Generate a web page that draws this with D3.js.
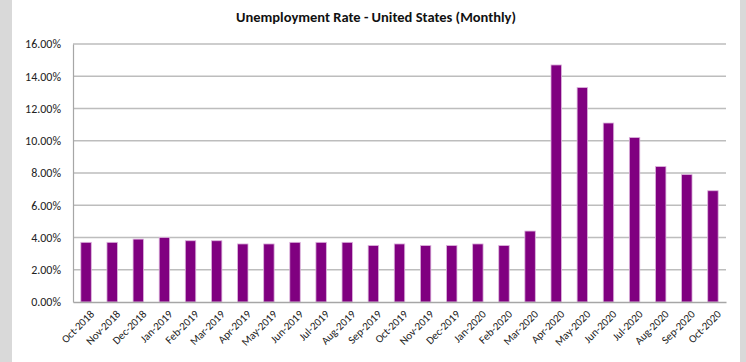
<!DOCTYPE html>
<html>
<head>
<meta charset="utf-8">
<script src="https://cdn.jsdelivr.net/npm/d3@7"></script>
<style>
  body { margin: 0; background: #d9d9d9; }
  svg { display: block; }
</style>
</head>
<body>
<div id="chart"></div>
<script>
// Chart data
var months = ['Oct-2018', 'Nov-2018', 'Dec-2018', 'Jan-2019', 'Feb-2019', 'Mar-2019', 'Apr-2019',
              'May-2019', 'Jun-2019', 'Jul-2019', 'Aug-2019', 'Sep-2019', 'Oct-2019', 'Nov-2019',
              'Dec-2019', 'Jan-2020', 'Feb-2020', 'Mar-2020', 'Apr-2020', 'May-2020', 'Jun-2020',
              'Jul-2020', 'Aug-2020', 'Sep-2020', 'Oct-2020'];
var rates = [3.7, 3.7, 3.9, 4.0, 3.8, 3.8, 3.6, 3.6, 3.7, 3.7, 3.7, 3.5, 3.6, 3.5,
             3.5, 3.6, 3.5, 4.4, 14.7, 13.3, 11.1, 10.2, 8.4, 7.9, 6.9];
var yTicks = [0, 2, 4, 6, 8, 10, 12, 14, 16];

var width = 746,
    height = 362,
    margin = {top: 44, right: 20, bottom: 60, left: 73},
    barColor = '#800080',
    gridColor = '#bdbdbd',
    fontFamily = 'Calibri, Carlito, "Open Sans", sans-serif';

var svg = d3.select('#chart').append('svg')
    .attr('width', width)
    .attr('height', height);

// white chart panel between the grey side strips
svg.append('rect')
   .attr('x', 12)
   .attr('y', 0)
   .attr('width', 728)
   .attr('height', height)
   .attr('fill', 'white');

var x = d3.scaleBand()
    .domain(months)
    .range([margin.left, 726])
    .paddingInner(0.6)
    .paddingOuter(0.3);

var y = d3.scaleLinear()
    .domain([0, 16])
    .range([302, margin.top]);

// gridlines
svg.append('g')
   .selectAll('line')
   .data(yTicks.slice(1))
   .enter().append('line')
   .attr('x1', margin.left)
   .attr('x2', 726)
   .attr('y1', function(d) { return y(d); })
   .attr('y2', function(d) { return y(d); })
   .attr('stroke', gridColor)
   .attr('stroke-width', 1.5);

// bars
svg.append('g')
   .selectAll('rect')
   .data(rates)
   .enter().append('rect')
   .attr('x', function(d, i) { return x(months[i]); })
   .attr('y', function(d) { return y(d); })
   .attr('width', x.bandwidth())
   .attr('height', function(d) { return y(0) - y(d); })
   .attr('fill', barColor)
   .attr('stroke', '#dcb4dc')
   .attr('stroke-width', 0.8);

// y axis
var yAxis = svg.append('g')
   .attr('transform', 'translate(' + margin.left + ',0)')
   .call(d3.axisLeft(y).tickValues(yTicks).tickSize(0).tickPadding(12)
           .tickFormat(function(d) { return d.toFixed(2) + '%'; }));
yAxis.select('.domain').attr('stroke', '#a6a6a6').attr('stroke-width', 1.2);
yAxis.selectAll('text')
     .attr('font-family', fontFamily)
     .attr('font-size', '12px')
     .attr('fill', '#222');

// x axis
var xAxis = svg.append('g')
   .attr('transform', 'translate(0,' + y(0) + ')')
   .call(d3.axisBottom(x).tickSize(0).tickSizeOuter(0));
xAxis.select('.domain').attr('stroke', '#a6a6a6').attr('stroke-width', 1.5);
xAxis.selectAll('text')
     .attr('font-family', fontFamily)
     .attr('font-size', '11px')
     .attr('fill', '#222')
     .attr('text-anchor', 'end')
     .attr('dy', '0.35em')
     .attr('transform', 'translate(4,8) rotate(-45)');

// title
svg.append('text')
   .attr('x', 376)
   .attr('y', 22)
   .attr('text-anchor', 'middle')
   .attr('font-family', fontFamily)
   .attr('font-weight', 'bold')
   .attr('font-size', '14.5px')
   .attr('fill', '#111')
   .text('Unemployment Rate - United States (Monthly)');
</script>
</body>
</html>
